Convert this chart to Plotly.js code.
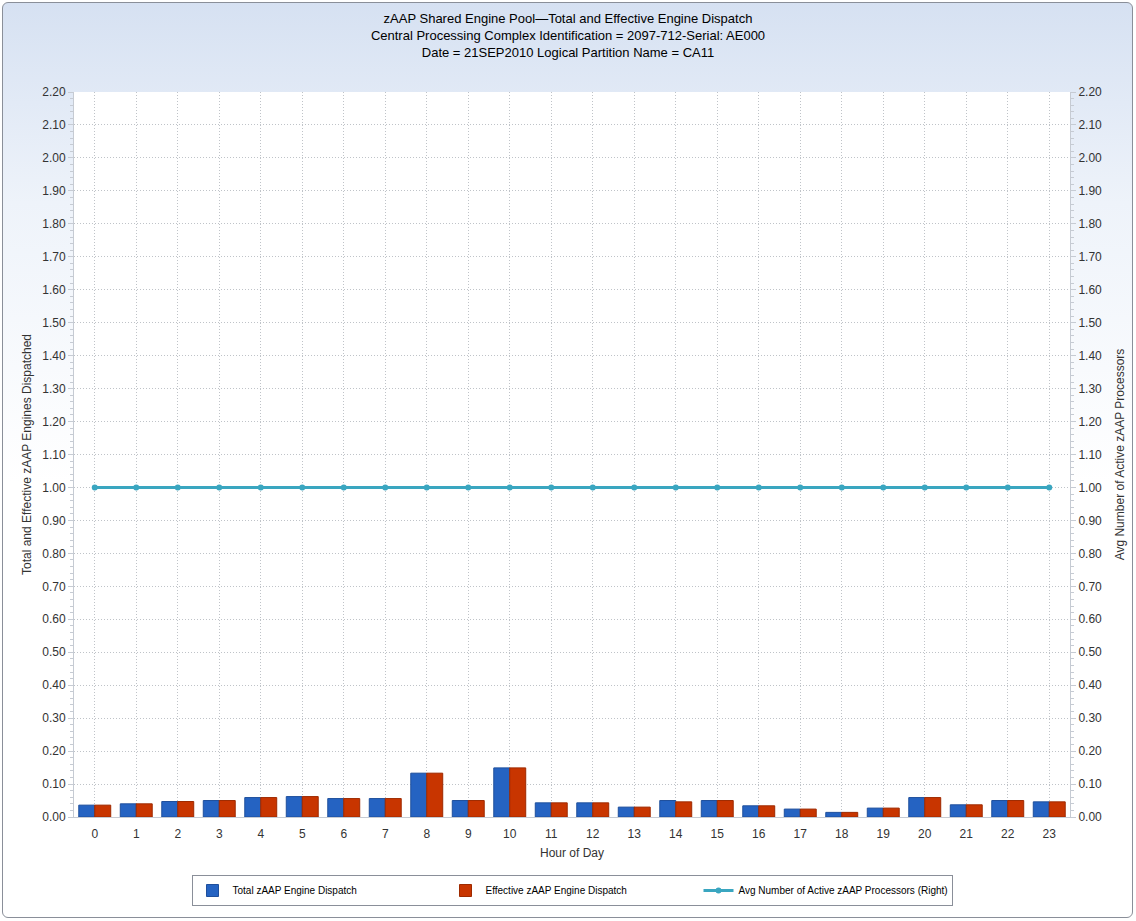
<!DOCTYPE html>
<html><head><meta charset="utf-8">
<script src="https://cdn.plot.ly/plotly-3.0.1.min.js"></script>
<style>
body{margin:0;background:#fff;}
#bg{position:absolute;left:2px;top:2px;width:1129px;height:914px;border:1px solid #8a8f99;border-radius:6px;
background:linear-gradient(to bottom,#d6e1f2 0px,#eef3fa 200px,#ffffff 480px,#ffffff 100%);}
#chart{position:absolute;left:0;top:0;width:1136px;height:921px;}
</style></head>
<body>
<div id="bg"></div>
<div id="chart"></div>
<script>
const hours = ["0","1","2","3","4","5","6","7","8","9","10","11","12","13","14","15","16","17","18","19","20","21","22","23"];
const totalDispatch = [0.036,0.040,0.047,0.050,0.059,0.062,0.056,0.056,0.133,0.050,0.149,0.043,0.043,0.030,0.050,0.050,0.034,0.024,0.014,0.027,0.059,0.037,0.050,0.046];
const effectiveDispatch = [0.036,0.040,0.047,0.050,0.059,0.062,0.056,0.056,0.133,0.050,0.149,0.043,0.043,0.030,0.046,0.050,0.034,0.024,0.014,0.027,0.059,0.037,0.050,0.046];
const activeProcessors = [1,1,1,1,1,1,1,1,1,1,1,1,1,1,1,1,1,1,1,1,1,1,1,1];

const font = "Liberation Sans, Arial, sans-serif";
const traces = [
  {type:'bar', x:hours, y:totalDispatch, name:'Total zAAP Engine Dispatch',
   marker:{color:'#2563c2', line:{color:'#1f4f9c', width:1}}},
  {type:'bar', x:hours, y:effectiveDispatch, name:'Effective zAAP Engine Dispatch',
   marker:{color:'#c83500', line:{color:'#9e2a00', width:1}}},
  {type:'scatter', mode:'lines+markers', x:hours, y:activeProcessors, yaxis:'y2',
   name:'Avg Number of Active zAAP Processors (Right)',
   line:{color:'#3aa6c0', width:3}, marker:{color:'#3aa6c0', size:6}}
];
const yax = {
  range:[0,2.2], dtick:0.1, tickformat:'.2f', showgrid:true, gridcolor:'#bfc3c8', griddash:'1px,2px',
  zeroline:false, showline:true, linecolor:'#c6cbd3', ticks:'outside', ticklen:5, tickcolor:'#c6cbd3',
  minor:{ticks:'outside', ticklen:3, tickcolor:'#c6cbd3', nticks:5, showgrid:false},
  tickfont:{family:font, size:12, color:'#333'}, fixedrange:true
};
const layout = {
  width:1136, height:921,
  paper_bgcolor:'rgba(0,0,0,0)', plot_bgcolor:'#ffffff',
  margin:{l:74, r:66, t:92, b:104},
  title:{text:'zAAP Shared Engine Pool\u2014Total and Effective Engine Dispatch<br>Central Processing Complex Identification = 2097-712-Serial: AE000<br>Date = 21SEP2010 Logical Partition Name = CA11',
    font:{family:font, size:13, color:'#000'}, x:0.5, xanchor:'center', y:0.975, yanchor:'top'},
  barmode:'group', bargap:0.23, bargroupgap:0,
  xaxis:{type:'category', range:[-0.5,23.5], showgrid:true, gridcolor:'#bfc3c8', griddash:'1px,2px', showline:true, linecolor:'#c6cbd3',
    ticks:'', ticklabelstandoff:6, tickfont:{family:font, size:12, color:'#333'},
    title:{text:'Hour of Day', font:{family:font, size:12, color:'#333'}, standoff:8}},
  yaxis:Object.assign({}, yax, {title:{text:'Total and Effective zAAP Engines Dispatched', font:{family:font, size:12, color:'#333'}, standoff:8}}),
  yaxis2:Object.assign({}, yax, {overlaying:'y', side:'right', showgrid:false, mirror:false,
    title:{text:'Avg Number of Active zAAP Processors', font:{family:font, size:12, color:'#333'}, standoff:14}}),
  showlegend:true,
  legend:{orientation:'h', x:0.50, xanchor:'center', y:-0.08, yanchor:'top', bordercolor:'#8a8f99', borderwidth:1,
    bgcolor:'#ffffff', font:{family:font, size:10, color:'#000'}, entrywidth:208, traceorder:'normal'}
};
Plotly.newPlot('chart', traces, layout, {displayModeBar:false, staticPlot:true});
</script>
</body></html>
